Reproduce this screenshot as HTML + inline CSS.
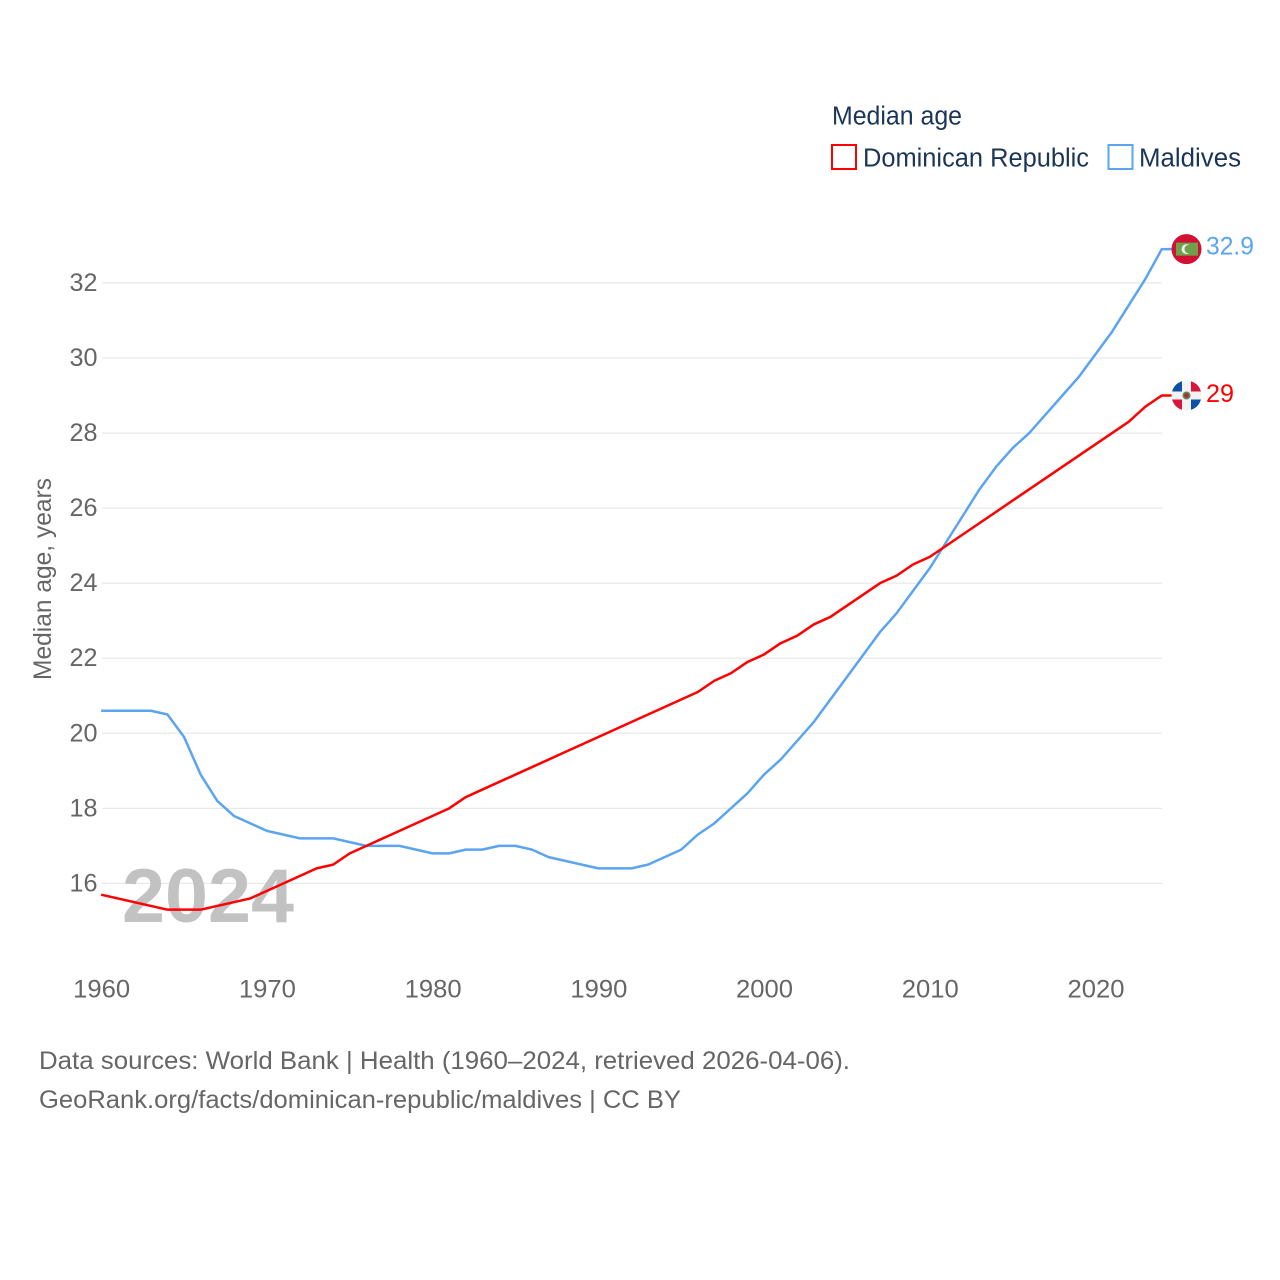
<!DOCTYPE html>
<html lang="en">
<head>
<meta charset="utf-8">
<title>Median age: Dominican Republic and Maldives</title>
<style>
html,body{margin:0;padding:0;background:#fff;}
svg{display:block;font-family:"Liberation Sans",sans-serif;}
</style>
</head>
<body>
<svg id="chart" xmlns="http://www.w3.org/2000/svg" width="1280" height="1280" viewBox="0 0 1280 1280">
  <rect width="1280" height="1280" fill="#ffffff"/>
  <g id="grid"></g>
  <g id="yticks"></g>
  <g id="xticks"></g>
  <text transform="translate(51,680) rotate(-90)" font-size="25" fill="#666666" textLength="202" lengthAdjust="spacingAndGlyphs">Median age, years</text>
  <text x="122" y="922" font-size="76" font-weight="bold" fill="#c2c2c2" textLength="172" lengthAdjust="spacingAndGlyphs">2024</text>
  <g id="series"></g>
  <g id="flags"></g>

  <g>
    <text x="832" y="124.5" font-size="25.5" fill="#1a3557" textLength="130" lengthAdjust="spacingAndGlyphs">Median age</text>
    <rect x="832" y="145" width="24" height="24" fill="#fff" stroke="#ff0000" stroke-width="2"/>
    <text x="863" y="166.5" font-size="25.5" fill="#1a3557" textLength="226" lengthAdjust="spacingAndGlyphs">Dominican Republic</text>
    <rect x="1108.5" y="145" width="24" height="24" fill="#fff" stroke="#5ba4ef" stroke-width="2"/>
    <text x="1139" y="166.5" font-size="25.5" fill="#1a3557" textLength="102" lengthAdjust="spacingAndGlyphs">Maldives</text>
  </g>

  <g>
    <text x="39" y="1069" font-size="25" fill="#666666" textLength="811" lengthAdjust="spacingAndGlyphs">Data sources: World Bank | Health (1960–2024, retrieved 2026-04-06).</text>
    <text x="39" y="1108" font-size="25" fill="#666666" textLength="642" lengthAdjust="spacingAndGlyphs">GeoRank.org/facts/dominican-republic/maldives | CC BY</text>
  </g>
</svg>
<script>
const startYear = 1960;
const xTickLabels = [1960, 1970, 1980, 1990, 2000, 2010, 2020];
const yTickLabels = [16, 18, 20, 22, 24, 26, 28, 30, 32];
const dominicanValues = [15.7,15.6,15.5,15.4,15.3,15.3,15.3,15.4,15.5,15.6,15.8,16.0,16.2,16.4,16.5,16.8,17.0,17.2,17.4,17.6,17.8,18.0,18.3,18.5,18.7,18.9,19.1,19.3,19.5,19.7,19.9,20.1,20.3,20.5,20.7,20.9,21.1,21.4,21.6,21.9,22.1,22.4,22.6,22.9,23.1,23.4,23.7,24.0,24.2,24.5,24.7,25.0,25.3,25.6,25.9,26.2,26.5,26.8,27.1,27.4,27.7,28.0,28.3,28.7,29.0];
const maldivesValues = [20.6,20.6,20.6,20.6,20.5,19.9,18.9,18.2,17.8,17.6,17.4,17.3,17.2,17.2,17.2,17.1,17.0,17.0,17.0,16.9,16.8,16.8,16.9,16.9,17.0,17.0,16.9,16.7,16.6,16.5,16.4,16.4,16.4,16.5,16.7,16.9,17.3,17.6,18.0,18.4,18.9,19.3,19.8,20.3,20.9,21.5,22.1,22.7,23.2,23.8,24.4,25.1,25.8,26.5,27.1,27.6,28.0,28.5,29.0,29.5,30.1,30.7,31.4,32.1,32.9];

const NS = 'http://www.w3.org/2000/svg';
function xScale(year) { return 101.2 + (year - 1960) * 16.5717; }
function yScale(v) { return 883.4 - (v - 16) * 37.53; }
function make(tag, attrs, parent) {
  const el = document.createElementNS(NS, tag);
  for (const k in attrs) el.setAttribute(k, attrs[k]);
  parent.appendChild(el);
  return el;
}
const gridG = document.getElementById('grid');
const yG = document.getElementById('yticks');
const xG = document.getElementById('xticks');
const seriesG = document.getElementById('series');
const flagsG = document.getElementById('flags');

yTickLabels.forEach(function (v) {
  const line = make('line', {x1: 102, x2: 1162, y1: yScale(v), y2: yScale(v), stroke: '#e9e9e9', 'stroke-width': 1.3}, gridG);
  
  
  const t = make('text', {x: 97.5, y: yScale(v) + 8, 'text-anchor': 'end', 'font-size': 25, fill: '#666666', textLength: 28, lengthAdjust: 'spacingAndGlyphs'}, yG);
  
  
  t.textContent = v;
});
xTickLabels.forEach(function (y) {
  const t = make('text', {x: xScale(y) - 28, y: 997.5, 'font-size': 25, fill: '#666666', textLength: 57, lengthAdjust: 'spacingAndGlyphs'}, xG);
  
  
  t.textContent = y;
});

function drawLine(values, color) {
  const pts = values.map(function (v, i) { return xScale(startYear + i).toFixed(2) + ',' + yScale(v).toFixed(2); });
  const lastY = yScale(values[values.length - 1]);
  pts.push('1175,' + lastY.toFixed(2));
  return make('polyline', {points: pts.join(' '), fill: 'none', stroke: color, 'stroke-width': 2.5, 'stroke-linejoin': 'round'}, seriesG);
}
const maldivesLine = drawLine(maldivesValues, '#5ba4ef');


const dominicanLine = drawLine(dominicanValues, '#ff0000');



/* Maldives flag and end value */
const mLast = maldivesValues[maldivesValues.length - 1];
const my = yScale(mLast);
const mFlag = make('g', {transform: 'translate(1186.5,' + my.toFixed(2) + ')'}, flagsG);


make('circle', {r: 15, fill: '#d21034'}, mFlag);
make('rect', {x: -10.5, y: -6.5, width: 22, height: 13, fill: '#6fa04a'}, mFlag);
make('circle', {cx: 0, cy: 0, r: 5, fill: '#e8eee4'}, mFlag);
make('circle', {cx: 2.2, cy: 0, r: 4.2, fill: '#6fa04a'}, mFlag);
const mVal = make('text', {x: 1206, y: my + 5.5, 'font-size': 25, fill: '#5ba4ef', textLength: 48, lengthAdjust: 'spacingAndGlyphs'}, flagsG);


mVal.textContent = mLast;

/* Dominican Republic flag and end value */
const dLast = dominicanValues[dominicanValues.length - 1];
const dy = yScale(dLast);
const dFlag = make('g', {transform: 'translate(1186.5,' + dy.toFixed(2) + ')'}, flagsG);


make('circle', {r: 15, fill: '#f2f2f2'}, dFlag);
make('path', {d: 'M-4.5,-4 V-14.3 A15,15 0 0 0 -14.4,-4 Z', fill: '#0d50a8'}, dFlag);
make('path', {d: 'M4.5,-4 V-14.3 A15,15 0 0 1 14.4,-4 Z', fill: '#d8153c'}, dFlag);
make('path', {d: 'M-4.5,4 V14.3 A15,15 0 0 1 -14.4,4 Z', fill: '#d8153c'}, dFlag);
make('path', {d: 'M4.5,4 V14.3 A15,15 0 0 0 14.4,4 Z', fill: '#0d50a8'}, dFlag);
make('circle', {r: 4, fill: '#5f8a5a'}, dFlag);
make('circle', {r: 2.4, fill: '#b02a3a'}, dFlag);
const dVal = make('text', {x: 1206, y: dy + 6.5, 'font-size': 25, fill: '#ff0000', textLength: 28, lengthAdjust: 'spacingAndGlyphs'}, flagsG);


dVal.textContent = dLast;
</script>
</body>
</html>
